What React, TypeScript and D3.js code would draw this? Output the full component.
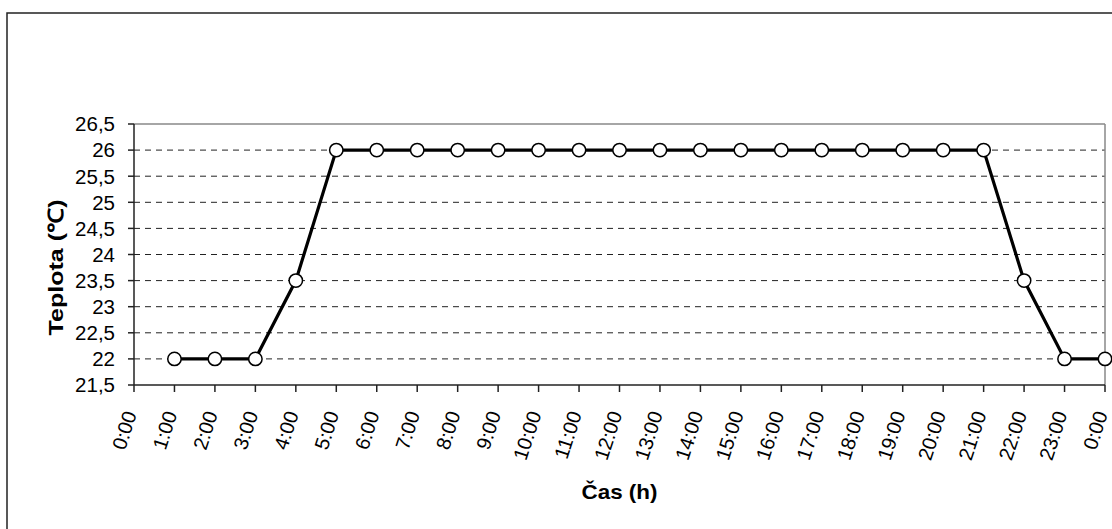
import React from "react";
import * as d3 from "d3";

const hours = ["0:00","1:00","2:00","3:00","4:00","5:00","6:00","7:00","8:00","9:00","10:00","11:00","12:00","13:00","14:00","15:00","16:00","17:00","18:00","19:00","20:00","21:00","22:00","23:00","0:00"];
const temps: (number | null)[] = [null,22,22,22,23.5,26,26,26,26,26,26,26,26,26,26,26,26,26,26,26,26,26,23.5,22,22];
const yTicks = [21.5,22,22.5,23,23.5,24,24.5,25,25.5,26,26.5];

const W = 1112, H = 529;
const L = 134, R = 1105, T = 124, B = 385;

export default function App() {
  const x = d3.scaleLinear().domain([0, hours.length - 1]).range([L, R]);
  const y = d3.scaleLinear().domain([21.5, 26.5]).range([B, T]);
  const pts = temps.map((v, i) => ({ i, v })).filter(d => d.v !== null) as { i: number; v: number }[];
  const line = d3.line<{ i: number; v: number }>().x(d => x(d.i)).y(d => y(d.v));
  const fmt = (v: number) => String(v).replace(".", ",");
  const font = "'Liberation Sans', Arial, sans-serif";
  return (
    <svg width={W} height={H} style={{ position: "absolute", left: 0, top: 0, background: "#fff" }} fontFamily={font}>
      <rect x={0} y={0} width={W} height={H} fill="#fff" />
      <rect x={7} y={13} width={1300} height={700} fill="none" stroke="#222" strokeWidth={1.5} />
      {yTicks.filter(v => v > 21.5 && v < 26.5).map(v => (
        <line key={"g" + v} x1={L} x2={R} y1={y(v)} y2={y(v)} stroke="#222" strokeWidth={1} strokeDasharray="6,5" />
      ))}
      <line x1={L} x2={R} y1={T} y2={T} stroke="#888" strokeWidth={1.5} />
      <line x1={R} x2={R} y1={T} y2={B} stroke="#888" strokeWidth={1.5} />
      <line x1={L} x2={L} y1={T} y2={B} stroke="#222" strokeWidth={1.5} />
      <line x1={L} x2={R} y1={B} y2={B} stroke="#222" strokeWidth={1.5} />
      {yTicks.map(v => (
        <g key={"y" + v}>
          <line x1={L - 6} x2={L} y1={y(v)} y2={y(v)} stroke="#222" strokeWidth={1.5} />
          <text x={115} y={y(v)} dy="0.36em" textAnchor="end" fontSize={20.5} fill="#000">{fmt(v)}</text>
        </g>
      ))}
      {hours.map((h, i) => (
        <g key={"x" + i}>
          <line x1={x(i)} x2={x(i)} y1={B} y2={B + 7} stroke="#222" strokeWidth={1.5} />
          <text transform={`translate(${x(i) + 3},${414}) rotate(-72)`} textAnchor="end" fontSize={20} fill="#000">{h}</text>
        </g>
      ))}
      <path d={line(pts) || ""} fill="none" stroke="#000" strokeWidth={3.2} />
      {pts.map(d => (
        <circle key={"c" + d.i} cx={x(d.i)} cy={y(d.v)} r={6.7} fill="#fff" stroke="#000" strokeWidth={1.5} />
      ))}
      <text x={(L + R) / 2} y={499} textAnchor="middle" fontSize={21} fontWeight="bold" textLength={76} lengthAdjust="spacingAndGlyphs">Čas (h)</text>
      <text transform={`translate(63,${267.5}) rotate(-90)`} textAnchor="middle" fontSize={21} fontWeight="bold" textLength={136} lengthAdjust="spacingAndGlyphs">Teplota (℃)</text>
    </svg>
  );
}
